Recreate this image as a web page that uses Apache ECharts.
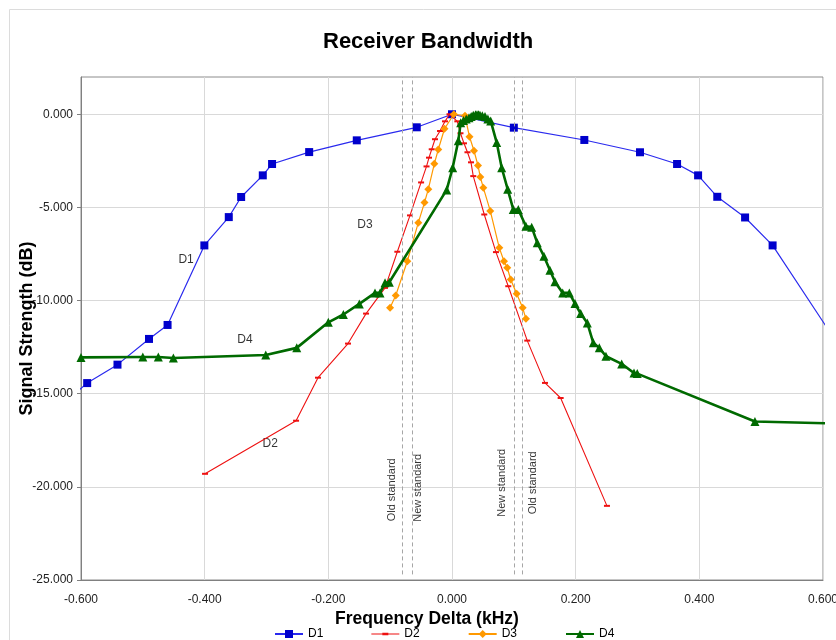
<!DOCTYPE html>
<html>
<head>
<meta charset="utf-8">
<script src="https://cdn.jsdelivr.net/npm/echarts@6/dist/echarts.min.js"></script>
<style>html,body{margin:0;padding:0;background:#fff;overflow:hidden}#c{width:836px;height:640px}</style>
</head>
<body>
<div id="c"></div>
<script>
// ---- data ----
const titleText = 'Receiver Bandwidth';
const xAxisTitle = 'Frequency Delta (kHz)';
const yAxisTitle = 'Signal Strength (dB)';
const seriesNames = ['D1', 'D2', 'D3', 'D4'];

const d1X = [-0.635, -0.590, -0.541, -0.490, -0.460, -0.4005, -0.361, -0.341, -0.306, -0.291, -0.231, -0.154, -0.057, 0.0, 0.100, 0.214, 0.304, 0.364, 0.398, 0.429, 0.474, 0.5185, 0.65];
const d1Y = [-15.7, -14.43, -13.44, -12.06, -11.31, -7.04, -5.52, -4.44, -3.28, -2.67, -2.03, -1.40, -0.70, 0.0, -0.72, -1.38, -2.04, -2.67, -3.28, -4.43, -5.54, -7.04, -13.65];

const d2X = [-0.3994, -0.2522, -0.2167, -0.1682, -0.139, -0.1083, -0.0884, -0.0679, -0.050, -0.0412, -0.0372, -0.0328, -0.0275, -0.0194, -0.0113, -0.004, 0.0086, 0.0137, 0.0194, 0.025, 0.0307, 0.0344, 0.0522, 0.0711, 0.091, 0.1217, 0.1504, 0.1757, 0.2506];
const d2Y = [-19.30, -16.45, -14.14, -12.31, -10.70, -9.32, -7.38, -5.43, -3.66, -2.80, -2.33, -1.88, -1.34, -0.90, -0.38, 0.0, -0.38, -1.02, -1.56, -2.04, -2.58, -3.32, -5.38, -7.40, -9.23, -12.15, -14.42, -15.23, -21.02];

const d3X = [-0.1002, -0.091, -0.0723, -0.0545, -0.0445, -0.0383, -0.0286, -0.0222, -0.0121, 0.003, 0.021, 0.0283, 0.0356, 0.042, 0.0458, 0.0506, 0.0619, 0.0765, 0.0841, 0.0894, 0.0949, 0.1046, 0.1143, 0.1196];
const d3Y = [-10.39, -9.73, -7.89, -5.82, -4.74, -4.02, -2.66, -1.89, -0.78, 0.0, -0.08, -1.21, -1.96, -2.75, -3.37, -3.94, -5.19, -7.17, -7.89, -8.24, -8.87, -9.64, -10.39, -10.98];

const d4X = [-0.6, -0.5, -0.475, -0.4506, -0.3012, -0.2511, -0.2, -0.1757, -0.1499, -0.1245, -0.1164, -0.1083, -0.1014, -0.0086, 0.0011, 0.0102, 0.0141, 0.0185, 0.023, 0.0275, 0.031, 0.0344, 0.038, 0.0404, 0.043, 0.0453, 0.049, 0.0534, 0.058, 0.0626, 0.0723, 0.0804, 0.0901, 0.0991, 0.1072, 0.1196, 0.1289, 0.1379, 0.1487, 0.1584, 0.1665, 0.179, 0.1897, 0.1989, 0.2081, 0.2188, 0.2285, 0.2382, 0.249, 0.2744, 0.2943, 0.2996, 0.4899, 0.65];
const d4Y = [-13.05, -13.03, -13.03, -13.08, -12.92, -12.54, -11.17, -10.75, -10.18, -9.59, -9.59, -9.05, -9.02, -4.06, -2.87, -1.42, -0.45, -0.33, -0.25, -0.19, -0.12, -0.05, -0.02, -0.03, -0.03, -0.05, -0.08, -0.12, -0.25, -0.36, -1.52, -2.87, -4.03, -5.11, -5.11, -6.01, -6.06, -6.90, -7.62, -8.37, -8.99, -9.59, -9.59, -10.16, -10.70, -11.20, -12.27, -12.54, -12.99, -13.40, -13.89, -13.92, -16.49, -16.62];

// standard bandwidth markers (kHz)
const standardNames = ['Old standard', 'New standard', 'New standard', 'Old standard'];
const standardX = [-0.080, -0.064, 0.100, 0.114];
// text label anchors (data coords)
const standardLabelX = [-0.097, -0.055, 0.081, 0.131];
const standardLabelY = [-20.16, -20.05, -19.78, -19.78];
// series name labels inside the plot
const nameLabelText = ['D1', 'D2', 'D3', 'D4'];
const nameLabelX = [-0.430, -0.294, -0.1407, -0.3347];
const nameLabelY = [-7.80, -17.69, -5.91, -12.10];

const xMin = -0.6, xMax = 0.6, xStep = 0.2;
const yMin = -25, yMax = 2, yStep = 5;
const yTicks = [-25, -20, -15, -10, -5, 0];

// ---- chart ----
const FONT = '"Liberation Sans", Arial, sans-serif';
const zip = (xs, ys) => xs.map((x, i) => [x, ys[i]]);
const fmt3 = v => (Math.abs(v) < 1e-9 ? 0 : v).toFixed(3);
// legend icon for D2: thin line with a short dash marker in the middle (28x10 box)
const dashIcon = 'path://M0,4.5 L28,4.5 L28,5.6 L0,5.6 Z M11,3.8 L17,3.8 L17,6.3 L11,6.3 Z M0,0 L0,0 M28,10 L28,10';

const chart = echarts.init(document.getElementById('c'), null, {renderer: 'canvas'});

const option = {
  backgroundColor: '#ffffff',
  animation: false,
  textStyle: {fontFamily: FONT},
  graphic: [{
    type: 'rect', silent: true, z: -1,
    shape: {x: 9.5, y: 9.5, width: 900, height: 700},
    style: {fill: 'none', stroke: '#dcdcdc', lineWidth: 1}
  }],
  title: {
    text: titleText, left: 318, top: 26,
    textStyle: {fontFamily: FONT, fontSize: 22, fontWeight: 'bold', color: '#000'}
  },
  legend: {
    data: seriesNames.map(n => (n === 'D2' ? {name: n, icon: dashIcon} : {name: n})),
    top: 623, left: 269, padding: 5,
    itemWidth: 28, itemHeight: 10, itemGap: 48,
    textStyle: {fontFamily: FONT, fontSize: 12, color: '#000'}
  },
  grid: {left: 81, right: 13, top: 77, bottom: 60, show: true, borderColor: '#8c8c8c', borderWidth: 1,
    containLabel: false, outerBoundsMode: 'none'},
  xAxis: {
    type: 'value', min: xMin, max: xMax, interval: xStep,
    name: xAxisTitle, nameLocation: 'middle', nameGap: 30, nameMoveOverlap: false,
    nameTextStyle: {fontFamily: FONT, fontSize: 17.5, fontWeight: 'bold', color: '#000', padding: [0, 50, 0, 0]},
    axisLine: {onZero: false, lineStyle: {color: '#808080', width: 1}},
    axisTick: {show: false},
    axisLabel: {margin: 14, fontSize: 12, color: '#222', fontFamily: FONT, formatter: fmt3},
    splitLine: {show: true, lineStyle: {color: '#d9d9d9', width: 1}}
  },
  yAxis: {
    type: 'value', min: yMin, max: yMax, interval: yStep,
    name: yAxisTitle, nameLocation: 'middle', nameGap: 45, nameRotate: 90, nameMoveOverlap: false,
    nameTextStyle: {fontFamily: FONT, fontSize: 18, fontWeight: 'bold', color: '#000'},
    axisLine: {onZero: false, lineStyle: {color: '#808080', width: 1}},
    axisTick: {show: true, length: 4, lineStyle: {color: '#808080'}, customValues: yTicks},
    axisLabel: {margin: 8, fontSize: 12, color: '#222', fontFamily: FONT, customValues: yTicks, formatter: fmt3},
    splitLine: {show: true, lineStyle: {color: '#d9d9d9', width: 1}}
  },
  series: [
    {
      name: 'D1', type: 'line', data: zip(d1X, d1Y),
      symbol: 'rect', symbolSize: 8, showAllSymbol: true,
      lineStyle: {color: '#2a2aee', width: 1.2},
      itemStyle: {color: '#0000cc'}, color: '#0000cc', z: 3
    },
    {
      name: 'D2', type: 'line', data: zip(d2X, d2Y),
      symbol: 'rect', symbolSize: [6, 2], showAllSymbol: true,
      lineStyle: {color: '#ee1111', width: 1.1},
      itemStyle: {color: '#ee1111'}, color: '#ee1111', z: 4
    },
    {
      name: 'D3', type: 'line', data: zip(d3X, d3Y),
      symbol: 'diamond', symbolSize: 8, showAllSymbol: true,
      lineStyle: {color: '#ff9900', width: 1.2},
      itemStyle: {color: '#ff9900'}, color: '#ff9900', z: 5
    },
    {
      name: 'D4', type: 'line', data: zip(d4X, d4Y),
      symbol: 'triangle', symbolSize: 9, showAllSymbol: true,
      lineStyle: {color: '#006a00', width: 2.6},
      itemStyle: {color: '#006a00'}, color: '#006a00', z: 6
    },
    {
      name: 'standards', type: 'scatter', silent: true, z: 2,
      symbolSize: 0,
      data: standardNames.map((n, i) => ({name: n, value: [standardLabelX[i], standardLabelY[i]]})),
      label: {show: true, position: 'inside', rotate: 90, formatter: p => p.name,
        fontFamily: FONT, fontSize: 11, color: '#000'},
      markLine: {
        silent: true, symbol: 'none', animation: false,
        label: {show: false},
        lineStyle: {type: [4, 3], color: '#a6a6a6', width: 1},
        data: standardX.map(x => [{coord: [x, yMin + 0.3]}, {coord: [x, yMax]}])
      }
    },
    {
      name: 'names', type: 'scatter', silent: true, z: 2,
      symbolSize: 0,
      data: nameLabelText.map((n, i) => ({name: n, value: [nameLabelX[i], nameLabelY[i]]})),
      label: {show: true, position: 'inside', formatter: p => p.name,
        fontFamily: FONT, fontSize: 12, color: '#000'}
    }
  ]
};
chart.setOption(option);
</script>
</body>
</html>
